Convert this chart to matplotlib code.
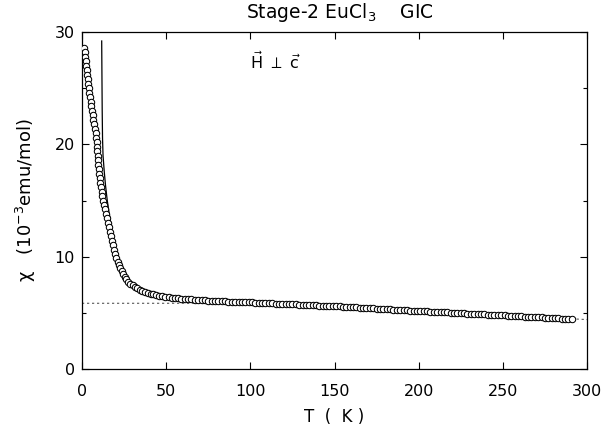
import matplotlib
matplotlib.use("Agg")
import matplotlib.pyplot as plt
from matplotlib.ticker import MultipleLocator

# ---- data ----
T_data = [
    1.2, 1.5, 1.8, 2.1, 2.4, 2.7, 3.0, 3.3, 3.6, 3.9,
    4.3, 4.7, 5.1, 5.6, 6.0, 6.4, 6.8, 7.2, 7.6, 8.1, 8.5, 8.7,
    9.0, 9.2, 9.4, 9.6, 9.8, 10.0, 10.3, 10.6, 10.9, 11.3, 11.7, 12.1, 12.6,
    13.1, 13.7, 14.3, 14.9, 15.5, 16.1, 16.6, 17.2, 17.7, 18.3, 18.9, 19.6, 20.4,
    21.2, 22.0, 22.8, 23.6, 24.5, 25.4, 26.4, 27.5, 28.7, 30.0, 31.4, 32.8,
    34.3, 35.8, 37.4, 39.0, 40.7, 42.4, 44.1, 45.9, 47.7, 49.6, 51.5, 53.4,
    55, 57, 59, 61, 63, 65, 67, 69, 71, 73, 75, 77, 79, 81, 83, 85, 87, 89,
    91, 93, 95, 97, 99, 101, 103, 105, 107, 109, 111, 113, 115, 117, 119,
    121, 123, 125, 127, 129, 131, 133, 135, 137, 139, 141, 143, 145, 147, 149,
    151, 153, 155, 157, 159, 161, 163, 165, 167, 169, 171, 173, 175, 177, 179,
    181, 183, 185, 187, 189, 191, 193, 195, 197, 199, 201, 203, 205, 207, 209,
    211, 213, 215, 217, 219, 221, 223, 225, 227, 229, 231, 233, 235, 237, 239,
    241, 243, 245, 247, 249, 251, 253, 255, 257, 259, 261, 263, 265, 267, 269,
    271, 273, 275, 277, 279, 281, 283, 285, 287, 289, 291,
]
chi_data = [
    28.6, 28.2, 27.8, 27.4, 27.0, 26.6, 26.2, 25.8, 25.4, 25.0,
    24.6, 24.2, 23.8, 23.4, 23.0, 22.6, 22.2, 21.8, 21.4, 21.0, 20.6, 20.2,
    19.8, 19.4, 19.0, 18.6, 18.2, 17.8, 17.4, 17.0, 16.6, 16.2, 15.8, 15.4, 15.0,
    14.6, 14.2, 13.8, 13.4, 13.0, 12.6, 12.2, 11.8, 11.4, 11.0, 10.6, 10.2, 9.85,
    9.55, 9.25, 8.98, 8.7, 8.45, 8.2, 7.97, 7.77, 7.6, 7.45, 7.3, 7.17,
    7.05, 6.95, 6.86, 6.79, 6.71, 6.64, 6.58, 6.52, 6.46, 6.41, 6.37, 6.34,
    6.31, 6.28, 6.25, 6.23, 6.21, 6.19, 6.17, 6.15, 6.13, 6.11, 6.09, 6.07, 6.05, 6.03, 6.02, 6.01, 6.00, 5.99,
    5.98, 5.97, 5.96, 5.95, 5.94, 5.93, 5.91, 5.90, 5.88, 5.87, 5.86, 5.84, 5.83, 5.82, 5.80,
    5.79, 5.78, 5.76, 5.75, 5.73, 5.72, 5.71, 5.69, 5.68, 5.67, 5.65, 5.64, 5.63, 5.61, 5.60,
    5.59, 5.57, 5.55, 5.53, 5.52, 5.50, 5.48, 5.46, 5.45, 5.43, 5.41, 5.39, 5.38, 5.36, 5.34,
    5.32, 5.31, 5.29, 5.27, 5.25, 5.24, 5.22, 5.20, 5.18, 5.17, 5.15, 5.14, 5.12, 5.11, 5.09,
    5.08, 5.06, 5.05, 5.03, 5.02, 5.00, 4.99, 4.97, 4.96, 4.94, 4.93, 4.91, 4.90, 4.88, 4.87,
    4.85, 4.84, 4.82, 4.81, 4.79, 4.77, 4.76, 4.74, 4.72, 4.71, 4.69, 4.67, 4.66, 4.64, 4.62,
    4.61, 4.59, 4.57, 4.56, 4.54, 4.52, 4.51, 4.49, 4.47, 4.46, 4.44,
]

# Curie-Weiss fit curve (solid line)
T_fit = [11.7, 11.85, 12.0, 12.2, 12.5, 13.2, 14.0, 15.0, 16.2, 17.7, 19.5, 21.5, 24.0, 27.5, 32.0, 38.0, 45.0]
chi_fit = [29.2, 26.0, 23.0, 20.5, 19.0, 17.6, 16.3, 15.0, 13.8, 12.4, 11.0, 9.9, 9.0, 8.0, 7.4, 6.9, 6.6]

# background (dashed line)
T_bg = [0, 90, 150, 200, 250, 300]
chi_bg = [5.85, 5.85, 5.6, 5.16, 4.78, 4.40]

x_ticks = [0, 50, 100, 150, 200, 250, 300]
y_ticks = [0, 10, 20, 30]

title = "Stage-2 EuCl$_3$    GIC"
xlabel = "T  (  K )"
ylabel = "χ   (10$^{-3}$emu/mol)"
annot = r"$\vec{\mathrm{H}}\ \perp\ \vec{\mathrm{c}}$"

# ---- drawing ----
plt.rcParams['font.family'] = ['DejaVu Sans']
plt.rcParams['mathtext.fontset'] = 'dejavusans'

fig = plt.figure(figsize=(6.15, 4.32), dpi=100)
ax = fig.add_axes([82/615, 1-369/432, (587-82)/615, (369-32)/432])

ax.plot(T_bg, chi_bg, color='#555555', lw=0.8, ls=(0, (2, 2.5)), zorder=1)
ax.plot(T_fit, chi_fit, color='black', lw=0.9, zorder=2)
ax.plot(T_data, chi_data, ls='none', marker='o', ms=4.6, mfc='white',
        mec='black', mew=0.75, zorder=3)

ax.set_xlim(0, 300)
ax.set_ylim(0, 30)
ax.set_xticks(x_ticks)
ax.set_yticks(y_ticks)
ax.yaxis.set_minor_locator(MultipleLocator(5))
ax.tick_params(which='both', direction='in', top=True, right=True,
               labelsize=11.5, width=0.8)
ax.tick_params(which='major', length=5)
ax.tick_params(axis='x', which='major', pad=11)
ax.tick_params(axis='y', which='major', pad=5)
ax.tick_params(which='minor', length=3)
for s in ax.spines.values():
    s.set_linewidth(0.9)

ax.set_title(title, fontsize=13.5, pad=10, x=0.51)
ax.set_xlabel(xlabel, fontsize=12, labelpad=6)
ax.set_ylabel(ylabel, fontsize=13, labelpad=12)
ax.text(115, 27.4, annot, fontsize=11.5, ha='center', va='center')

fig.savefig("out.png", dpi=100)
